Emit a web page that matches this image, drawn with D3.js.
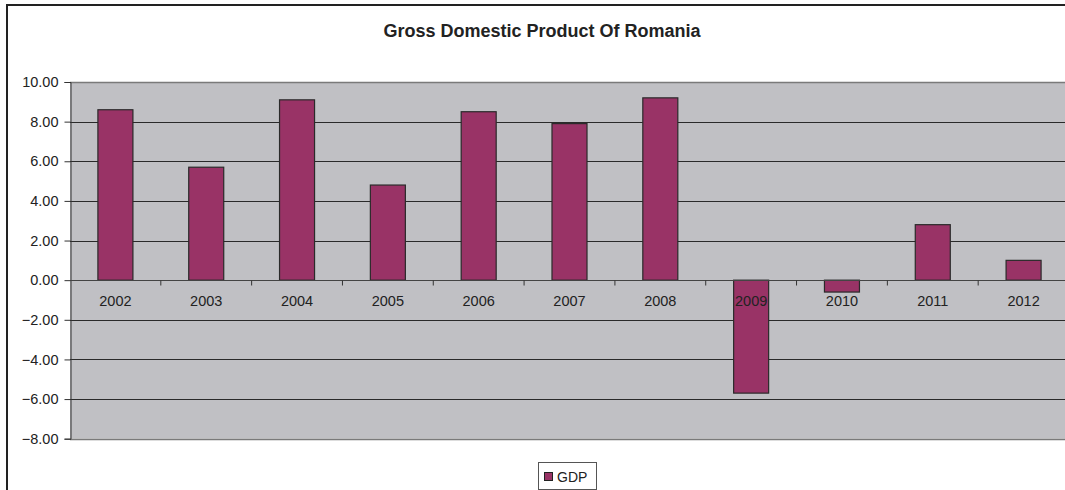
<!DOCTYPE html>
<html>
<head>
<meta charset="utf-8">
<script src="https://cdn.jsdelivr.net/npm/d3@7"></script>
<style>
  html, body { margin: 0; padding: 0; background: #fff; overflow: hidden; }
  svg { display: block; }
  text { font-family: Arial, "Liberation Sans", sans-serif; }
</style>
</head>
<body>
<svg id="chart" width="1065" height="490"></svg>
<script>
const categories = ["2002","2003","2004","2005","2006","2007","2008","2009","2010","2011","2012"];
const gdpValues = [8.6, 5.7, 9.1, 4.8, 8.5, 7.9, 9.2, -5.7, -0.6, 2.8, 1.0];
const yTicks = [10, 8, 6, 4, 2, 0, -2, -4, -6, -8];
const seriesName = "GDP";
const chartTitle = "Gross Domestic Product Of Romania";

const svg = d3.select("#chart");
const W = 1065, H = 490;
const plotLeft = 70, plotRight = 1069, plotTop = 82, plotBottom = 438.7;

// chart frame: only the left and top edges fall inside the picture
svg.append("path").attr("d", `M7,${H + 5}V5H${W + 5}`)
  .attr("fill", "none").attr("stroke", "#222").attr("stroke-width", 2);

svg.append("text").attr("x", 542).attr("y", 37).attr("text-anchor", "middle")
  .attr("font-size", 18).attr("font-weight", "bold").attr("fill", "#222").text(chartTitle);

const x = d3.scaleBand().domain(categories).range([plotLeft, plotRight])
  .paddingInner(1 - 35 / 90.8).paddingOuter((1 - 35 / 90.8) / 2);
const y = d3.scaleLinear().domain([-8, 10]).range([plotBottom, plotTop]);

// plot area
svg.append("rect").attr("x", plotLeft).attr("y", y(10)).attr("width", plotRight - plotLeft + 20).attr("height", y(-8) - y(10))
  .attr("fill", "#c0c0c4");

// gridlines
svg.append("g").selectAll("line").data(yTicks).join("line")
  .attr("x1", plotLeft).attr("x2", plotRight + 20)
  .attr("y1", d => Math.round(y(d)) + 0.5).attr("y2", d => Math.round(y(d)) + 0.5)
  .attr("stroke", d => (d === 10 || d === -8) ? "#7a7a7a" : "#2a2a2a").attr("stroke-width", d => (d === 10 || d === -8) ? 1.5 : 1);

// y axis
const yAxis = d3.axisLeft(y).tickValues(yTicks).tickFormat(d3.format(".2f")).tickSize(6).tickPadding(6);
const yg = svg.append("g").attr("transform", `translate(${plotLeft + 0.5},0)`).call(yAxis);
yg.select(".domain").attr("stroke", "#333");
yg.selectAll(".tick line").attr("stroke", "#333");
yg.selectAll(".tick text").attr("font-size", 14.5).attr("fill", "#222")
  .attr("font-family", "Arial, 'Liberation Sans', sans-serif");

// bars
svg.append("g").selectAll("rect").data(categories).join("rect")
  .attr("x", d => x(d))
  .attr("width", x.bandwidth())
  .attr("y", (d, i) => y(Math.max(0, gdpValues[i])))
  .attr("height", (d, i) => Math.abs(y(gdpValues[i]) - y(0)))
  .attr("fill", "#993366").attr("stroke", "#2a2a2a").attr("stroke-width", 1.2);

// zero axis line with category ticks
const y0 = Math.round(y(0)) + 0.5;
svg.append("line").attr("x1", plotLeft).attr("x2", plotRight + 20).attr("y1", y0).attr("y2", y0)
  .attr("stroke", "#444").attr("stroke-width", 1);
const step = x.step();
svg.append("g").selectAll("line").data(d3.range(1, categories.length)).join("line")
  .attr("x1", d => plotLeft + d * step).attr("x2", d => plotLeft + d * step)
  .attr("y1", y0).attr("y2", y0 + 5).attr("stroke", "#333");

// category labels
svg.append("g").selectAll("text").data(categories).join("text")
  .attr("x", d => x(d) + x.bandwidth() / 2).attr("y", y(0) + 26)
  .attr("text-anchor", "middle").attr("font-size", 14.5).attr("fill", "#222").text(d => d);

// legend
const lg = svg.append("g");
lg.append("rect").attr("x", 538.5).attr("y", 462.5).attr("width", 58).attr("height", 27)
  .attr("fill", "#fff").attr("stroke", "#555");
lg.append("rect").attr("x", 544.5).attr("y", 472.5).attr("width", 8).attr("height", 8)
  .attr("fill", "#993366").attr("stroke", "#222");
lg.append("text").attr("x", 557).attr("y", 481.5).attr("font-size", 14).attr("fill", "#222").text(seriesName);
</script>
</body>
</html>
